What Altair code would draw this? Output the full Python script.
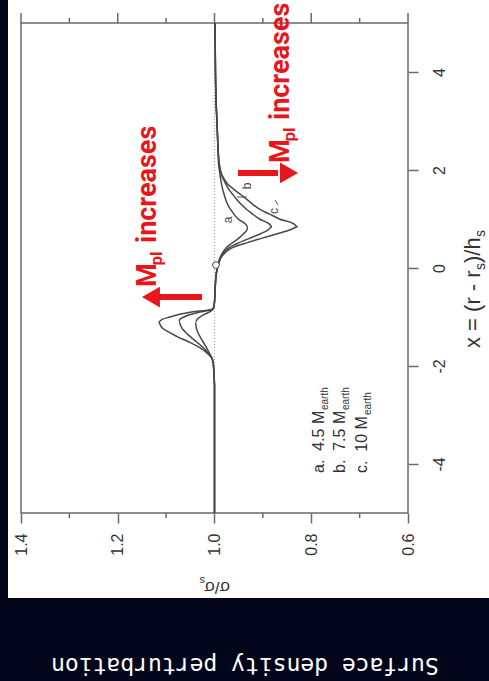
import altair as alt
import pandas as pd

# radial coordinate x = (r - r_s)/h_s
x_pos = [-5.0, -3.0, -2.4, -2.2, -2.0, -1.88, -1.75, -1.6, -1.5, -1.4,
         -1.3, -1.2, -1.1, -1.05, -1.0, -0.95, -0.9, -0.84, -0.7, -0.5,
         -0.3, -0.1, 0.0, 0.1, 0.2, 0.3, 0.4, 0.5, 0.6, 0.7,
         0.78, 0.84, 0.9, 1.0, 1.1, 1.2, 1.3, 1.4, 1.5, 1.6,
         1.8, 2.0, 2.2, 2.5, 3.0, 3.5, 4.0, 5.0]

# surface density sigma/sigma_s for the three planet masses
sigma_a = [1.000, 1.000, 1.000, 1.001, 1.002, 1.004, 1.010, 1.018, 1.024, 1.030,
           1.035, 1.038, 1.039, 1.036, 1.030, 1.022, 1.011, 1.003, 1.000, 0.999,
           0.998, 0.996, 0.994, 0.992, 0.989, 0.984, 0.977, 0.965, 0.951, 0.940,
           0.933, 0.931, 0.936, 0.951, 0.960, 0.967, 0.973, 0.977, 0.980, 0.983,
           0.987, 0.990, 0.992, 0.993, 0.995, 0.997, 0.998, 0.999]
sigma_b = [1.000, 1.000, 1.000, 1.001, 1.002, 1.004, 1.012, 1.026, 1.038, 1.050,
           1.061, 1.069, 1.073, 1.072, 1.063, 1.050, 1.030, 1.004, 1.000, 0.999,
           0.998, 0.996, 0.994, 0.992, 0.988, 0.982, 0.972, 0.953, 0.929, 0.905,
           0.889, 0.881, 0.887, 0.907, 0.921, 0.934, 0.945, 0.954, 0.962, 0.970,
           0.981, 0.988, 0.991, 0.993, 0.995, 0.997, 0.998, 0.999]
sigma_c = [1.000, 1.000, 1.000, 1.001, 1.002, 1.004, 1.014, 1.035, 1.055, 1.077,
           1.096, 1.110, 1.116, 1.108, 1.092, 1.074, 1.048, 1.004, 1.000, 0.999,
           0.998, 0.996, 0.994, 0.991, 0.987, 0.979, 0.966, 0.938, 0.905, 0.870,
           0.843, 0.828, 0.836, 0.866, 0.886, 0.907, 0.921, 0.933, 0.946, 0.959,
           0.979, 0.988, 0.991, 0.993, 0.995, 0.997, 0.998, 0.999]
series_names = ["a", "b", "c"]

major_sigma = [1.4, 1.2, 1.0, 0.8, 0.6]
minor_sigma = [1.3, 1.1, 0.9, 0.7]
x_ticks = [-4, -2, 0, 2, 4]

legend_main = ["a.\u00a0\u00a04.5 M", "b.\u00a0\u00a07.5 M", "c.\u00a0\u00a010 M"]
legend_sub = ["earth", "earth", "earth"]

INK = "#474747"
FRAME = "#6a6a6a"
RED = "#e8161b"
NAVY = "#03061a"
SANS = "Liberation Sans"
BOLD = "Roboto"

sx = alt.Scale(domain=[0.6, 1.4], reverse=True, nice=False, zero=False)
sy = alt.Scale(domain=[-5, 5], nice=False, zero=False)

# one shared axis definition per scale, repeated on every layer so they merge
sigma_axis = alt.Axis(
    orient="bottom", values=major_sigma, format=".1f", domain=False, grid=False,
    tickSize=10, tickWidth=1.5, tickColor=FRAME, labelAngle=270,
    labelAlign="right", labelBaseline="middle", labelPadding=10,
    labelFont=SANS, labelFontSize=16, labelColor="#333333", labelFlush=False,
    labelOverlap=False, title=None, zindex=1)
x_axis = alt.Axis(
    orient="right", values=x_ticks, domain=False, grid=False,
    tickSize=10, tickWidth=1.5, tickColor=FRAME, labelAngle=270,
    labelAlign="center", labelBaseline="middle", labelPadding=21,
    labelExpr="datum.value < 0 ? '-' + abs(datum.value) : '' + datum.value",
    labelFont=SANS, labelFontSize=16, labelColor="#333333", labelFlush=False,
    labelOverlap=False, title=None, zindex=1)


def X(field):
    return alt.X(f"{field}:Q", scale=sx, axis=sigma_axis)


def Y(field):
    return alt.Y(f"{field}:Q", scale=sy, axis=x_axis)


n = len(x_pos)
curves = pd.DataFrame({
    "x": x_pos * 3,
    "sigma": sigma_a + sigma_b + sigma_c,
    "series": [s for s in series_names for _ in range(n)],
})

one = pd.DataFrame({"k": [0]})

# dark surround: left strip and bottom caption band
left_strip = alt.Chart(one).mark_rect(color=NAVY).encode(
    x=alt.value(-21), x2=alt.value(-13), y=alt.value(-23), y2=alt.value(658))
bottom_band = alt.Chart(one).mark_rect(color=NAVY).encode(
    x=alt.value(-21), x2=alt.value(468), y=alt.value(575), y2=alt.value(658))

# unperturbed level sigma = sigma_s
ref_line = alt.Chart(pd.DataFrame({"s": [1.0]})).mark_rule(
    color="#9a9a9a", strokeDash=[1, 2], strokeWidth=1).encode(x=X("s"))

lines = alt.Chart(curves).mark_line(
    orient="horizontal", interpolate="monotone", color=INK, strokeWidth=1.5
).encode(
    x=X("sigma"),
    y=Y("x"),
    detail="series:N",
    order=alt.Order("x:Q", sort="descending"),
)

# minor ticks on the sigma axis and ticks along the opposite frame edge
minor_bottom = alt.Chart(pd.DataFrame({"s": minor_sigma})).mark_rule(
    color=FRAME, strokeWidth=1.5).encode(x=X("s"), y=alt.value(490), y2=alt.value(495))
major_top = alt.Chart(pd.DataFrame({"s": major_sigma})).mark_rule(
    color=FRAME, strokeWidth=1.5).encode(x=X("s"), y=alt.value(0), y2=alt.value(-10))
minor_top = alt.Chart(pd.DataFrame({"s": minor_sigma})).mark_rule(
    color=FRAME, strokeWidth=1.5).encode(x=X("s"), y=alt.value(0), y2=alt.value(-5))

# planet location marker
marker = alt.Chart(pd.DataFrame({"s": [0.997], "x": [0.06]})).mark_point(
    shape="circle", filled=True, fill="white", stroke=INK, strokeWidth=1,
    size=45, opacity=1).encode(x=X("s"), y=Y("x"))

# curve labels and their leaders
curve_labels = alt.Chart(pd.DataFrame({
    "s": [0.973, 0.932, 0.877], "x": [0.98, 1.673, 1.163], "t": series_names,
})).mark_text(angle=270, align="center", baseline="middle", font=SANS,
              fontSize=12, color="#444444").encode(x=X("s"), y=Y("x"), text="t:N")
leaders = alt.Chart(pd.DataFrame({
    "s0": [0.9535, 0.8749], "s1": [0.9328, 0.8687],
    "x0": [1.449, 1.388], "x1": [1.449, 1.286],
})).mark_rule(color="#555555", strokeWidth=1).encode(
    x=X("s0"), x2="s1:Q", y=Y("x0"), y2="x1:Q")

# legend
legend_main_layer = alt.Chart(pd.DataFrame({
    "s": [0.7736, 0.7302, 0.6847], "x": [-4.184] * 3, "t": legend_main,
})).mark_text(angle=270, align="left", baseline="alphabetic", font=SANS,
              fontSize=16, color="#333333").encode(x=X("s"), y=Y("x"), text="t:N")
legend_sub_layer = alt.Chart(pd.DataFrame({
    "s": [0.7654, 0.7220, 0.6765], "x": [-2.898, -2.898, -3.0], "t": legend_sub,
})).mark_text(angle=270, align="left", baseline="alphabetic", font=SANS,
              fontSize=10, color="#333333").encode(x=X("s"), y=Y("x"), text="t:N")

# red arrows
shafts = alt.Chart(pd.DataFrame({
    "s0": [1.0258, 0.9514], "s1": [1.1168, 0.8687], "x": [-0.592, 1.939],
})).mark_rule(color=RED, strokeWidth=6).encode(x=X("s0"), x2="s1:Q", y=Y("x"))
head_up = alt.Chart(pd.DataFrame({"s": [1.1313], "x": [-0.592]})).mark_point(
    shape="triangle-left", filled=True, color=RED, size=430, opacity=1,
    strokeWidth=0).encode(x=X("s"), y=Y("x"))
head_down = alt.Chart(pd.DataFrame({"s": [0.846], "x": [1.939]})).mark_point(
    shape="triangle-right", filled=True, color=RED, size=430, opacity=1,
    strokeWidth=0).encode(x=X("s"), y=Y("x"))

red_main = alt.Chart(pd.DataFrame({
    "s": [1.1209, 1.1209, 0.846, 0.846],
    "x": [-0.388, 0.51, 2.143, 3.02],
    "t": ["M", "increases", "M", "increases"],
})).mark_text(angle=270, align="left", baseline="alphabetic", font=BOLD,
              fontSize=27, fontWeight="bold", color=RED).encode(
    x=X("s"), y=Y("x"), text="t:N")
red_sub = alt.Chart(pd.DataFrame({
    "s": [1.1085, 0.8336], "x": [0.05, 2.58], "t": ["pl", "pl"],
})).mark_text(angle=270, align="left", baseline="alphabetic", font=BOLD,
              fontSize=17, fontWeight="bold", color=RED).encode(
    x=X("s"), y=Y("x"), text="t:N")

# axis titles with subscripts
xtitle_main = alt.Chart(pd.DataFrame({
    "s": [0.4512, 0.4512], "x": [-1.633, 0.102], "t": ["x = (r - r", ")/h"],
})).mark_text(angle=270, align="left", baseline="alphabetic", font=SANS,
              fontSize=22, color="#333333").encode(x=X("s"), y=Y("x"), text="t:N")
xtitle_sub = alt.Chart(pd.DataFrame({
    "s": [0.4408, 0.4408], "x": [-0.041, 0.633], "t": ["s", "s"],
})).mark_text(angle=270, align="left", baseline="alphabetic", font=SANS,
              fontSize=14, color="#333333").encode(x=X("s"), y=Y("x"), text="t:N")
ytitle_main = alt.Chart(pd.DataFrame({"s": [0.968], "x": [-6.408], "t": ["σ/σ"]})).mark_text(
    angle=180, align="left", baseline="alphabetic", font=SANS, fontSize=17,
    color="#333333").encode(x=X("s"), y=Y("x"), text="t:N")
ytitle_sub = alt.Chart(pd.DataFrame({"s": [1.0196], "x": [-6.306], "t": ["s"]})).mark_text(
    angle=180, align="left", baseline="alphabetic", font=SANS, fontSize=11,
    color="#333333").encode(x=X("s"), y=Y("x"), text="t:N")

caption = alt.Chart(pd.DataFrame({"t": ["Surface density perturbation"]})).mark_text(
    angle=180, align="center", baseline="middle", font="DejaVu Sans Mono",
    fontSize=23, color="white").encode(x=alt.value(224), y=alt.value(642), text="t:N")

chart = alt.layer(
    left_strip, bottom_band, ref_line, lines, minor_bottom, major_top, minor_top,
    marker, curve_labels, leaders, legend_main_layer, legend_sub_layer,
    shafts, head_up, head_down, red_main, red_sub,
    xtitle_main, xtitle_sub, ytitle_main, ytitle_sub, caption,
).properties(
    width=387, height=490,
    autosize=alt.AutoSizeParams(type="none"),
    padding={"left": 21, "top": 23, "right": 81, "bottom": 168},
    background="white",
).configure_view(stroke=FRAME, strokeWidth=1.5)

chart.save("out.html", embed_options={"renderer": "svg", "actions": False})
